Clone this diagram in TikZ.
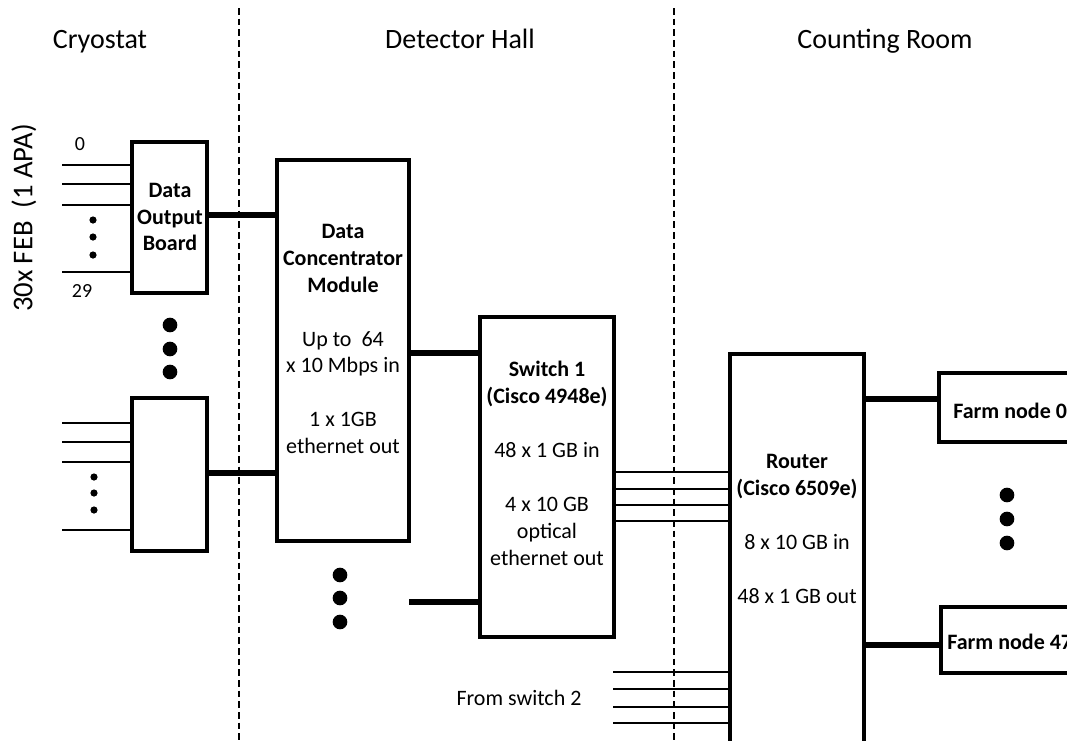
\documentclass[tikz,border=0pt]{standalone}
\usepackage{fontspec}
\setmainfont{Carlito}
\usetikzlibrary{fit,calc}
\begin{document}
\begin{tikzpicture}[x=0.75pt,y=-0.75pt,
  box/.style={draw,line width=2.3pt,inner sep=0pt},
  wire/.style={line width=2.2pt},
  conn/.style={line width=4pt},
  sep/.style={line width=1pt,dash pattern=on 5pt off 3pt},
  head/.style={font=\fontsize{21}{25}\selectfont,anchor=base},
  txt/.style={font=\fontsize{16.5}{20.2}\selectfont,align=center,inner sep=0pt},
  small/.style={font=\fontsize{15}{17}\selectfont,anchor=base,inner sep=0pt},
  sdot/.style={fill=black,circle,inner sep=0pt,minimum size=5.4pt},
  bdot/.style={fill=black,circle,inner sep=0pt,minimum size=11pt}]
\useasboundingbox (0,0) rectangle (1067,740);
\clip (0,0) rectangle (1067,740);

% headers
\node[head] (hcryo) at (100,48) {Cryostat};
\node[head] (hhall) at (460,48) {Detector Hall};
\node[head] (hroom) at (885,48) {Counting Room};
\node[font=\fontsize{21.5}{25}\selectfont,rotate=90] (feb) at (24,218) {30x FEB\ \ (1 APA)};

% separators
\coordinate (s1t) at (239,8); \coordinate (s1b) at (239,745);
\coordinate (s2t) at (674,8); \coordinate (s2b) at (674,745);
\draw[sep] (s1t) -- (s1b);
\draw[sep] (s2t) -- (s2b);

% boxes
\node[box,fit={(132,142) (207,293)}] (dob1) {};
\node[box,fit={(132,398) (207,551)}] (dob2) {};
\node[box,fit={(277,160) (409,541)}] (dcm) {};
\node[box,fit={(480,317) (614,637)}] (sw) {};
\node[box,fit={(730,354) (864,770)}] (rt) {};
\node[box,fit={(939,373) (1100,442)}] (f0) {};
\node[box,fit={(941,607) (1100,673)}] (f47) {};

% box texts
\node[txt] (tdob) at (170,217) {\textbf{Data}\\\textbf{Output}\\\textbf{Board}};
\node[txt] (tdcm) at (343,339) {\textbf{Data}\\\textbf{Concentrator}\\\textbf{Module}\\[20.2pt]Up to\ \ 64\\x 10 Mbps in\\[20.2pt]1 x 1GB\\ethernet out};
\node[txt] (tsw) at (547,463.5) {\textbf{Switch 1}\\\textbf{(Cisco 4948e)}\\[20.2pt]48 x 1 GB in\\[20.2pt]4 x 10 GB\\optical\\ethernet out};
\node[txt] (trt) at (797,529) {\textbf{Router}\\\textbf{(Cisco 6509e)}\\[20.2pt]8 x 10 GB in\\[20.2pt]48 x 1 GB out};
\node[txt,anchor=base west] (tf0) at (953,418) {\textbf{Farm node 0}};
\node[txt,anchor=base west] (tf47) at (947,649) {\textbf{Farm node 47}};

% labels
\node[small] (l0) at (80,150) {0};
\node[small] (l29) at (82,297) {29};
\node[font=\fontsize{16.5}{20}\selectfont,anchor=base] (lsw2) at (519,705) {From switch 2};

% FEB inputs
\foreach \y in {165,184,205,272} {
  \coordinate (in\y) at (62,\y);
  \draw[wire] (in\y) -- (dob1.west |- in\y);
}
\foreach \y in {423,442,462,530} {
  \coordinate (in\y) at (62,\y);
  \draw[wire] (in\y) -- (dob2.west |- in\y);
}
\foreach \y in {220,237,255} \node[sdot] at (93,\y) {};
\foreach \y in {477,493,510} \node[sdot] at (94,\y) {};

% thick connectors
\draw[conn] (dob1.east |- 0,215) -- (dcm.west |- 0,215);
\draw[conn] (dob2.east |- 0,473) -- (dcm.west |- 0,473);
\draw[conn] (dcm.east |- 0,353) -- (sw.west |- 0,353);
\coordinate (odcm) at (409,602);
\draw[conn] (odcm) -- (sw.west |- odcm);
\draw[conn] (rt.east |- 0,399) -- (f0.west |- 0,399);
\draw[conn] (rt.east |- 0,645) -- (f47.west |- 0,645);

% switch to router
\foreach \y in {472,489,505,521} \draw[wire] (sw.east |- 0,\y) -- (rt.west |- 0,\y);
% from switch 2
\foreach \y in {672,689,707,723} {
  \coordinate (sw2\y) at (613,\y);
  \draw[wire] (sw2\y) -- (rt.west |- sw2\y);
}

% big dots
\foreach \y in {325,349,372} \node[bdot] at (170,\y) {};
\foreach \y in {575,598,622} \node[bdot] at (340,\y) {};
\foreach \y in {495,519,543} \node[bdot] at (1007,\y) {};
\end{tikzpicture}
\end{document}
